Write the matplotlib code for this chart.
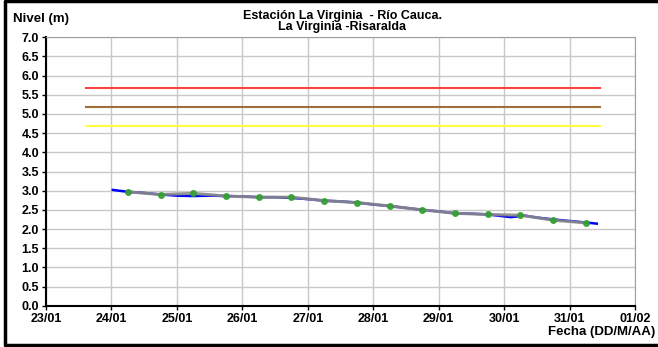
import matplotlib
matplotlib.use('Agg')
import matplotlib.pyplot as plt
import matplotlib.dates as mdates
from matplotlib.lines import Line2D
from datetime import datetime, timedelta

plt.rcParams['font.family'] = ['Liberation Sans', 'DejaVu Sans']
plt.rcParams['font.weight'] = 'bold'

t0 = datetime(2012, 1, 24)
# lecturas (cada 12 h) - horas desde 24/01 00:00
horas_lect = [6, 18, 30, 42, 54, 66, 78, 90, 102, 114, 126, 138, 150, 162, 174]
nivel_lect = [2.97, 2.90, 2.93, 2.86, 2.83, 2.83, 2.74, 2.69, 2.60, 2.50, 2.41, 2.38, 2.36, 2.23, 2.16]

# sensor (linea azul)
horas_sensor = [0.5, 6, 12, 18, 24, 30, 36, 42, 48, 54, 60, 66, 72, 78, 84, 90, 96, 102, 108, 114,
                120, 126, 132, 138, 144, 146.5, 149, 150.5, 156, 162, 168, 174, 178]
nivel_sensor = [3.02, 2.97, 2.94, 2.90, 2.87, 2.86, 2.87, 2.86, 2.85, 2.83, 2.83, 2.81, 2.78, 2.74,
                2.72, 2.69, 2.64, 2.60, 2.55, 2.50, 2.46, 2.41, 2.40, 2.38, 2.33, 2.31, 2.33, 2.36,
                2.30, 2.25, 2.21, 2.17, 2.14]

# niveles de alerta
alertas = [5.67, 5.18, 4.68]
col_alertas = ['#ff4040', '#a0703a', '#ffff40']
ini_alerta, fin_alerta = -9.4, 179.3

fig = plt.figure(figsize=(6.58, 3.47), dpi=100)
ax = fig.add_axes([0.0699, 0.119, 0.8951, 0.7735])

for v, c in zip(alertas, col_alertas):
    ax.plot([t0 + timedelta(hours=ini_alerta), t0 + timedelta(hours=fin_alerta)], [v, v], color=c, lw=1.5)

ax.plot([t0 + timedelta(hours=h) for h in horas_sensor], nivel_sensor, color='#0000ff', lw=1.8, zorder=3)
ax.plot([t0 + timedelta(hours=h) for h in horas_lect], nivel_lect, color='#8a8a8a', lw=2.2, alpha=0.9,
        marker='o', markersize=4, markerfacecolor='#33a033', markeredgecolor='#33a033', zorder=4)

ax.set_xlim(datetime(2012, 1, 23), datetime(2012, 2, 1))
ax.set_ylim(0, 7)
ax.set_yticks([i * 0.5 for i in range(15)])
ax.yaxis.set_major_formatter(plt.FormatStrFormatter('%.1f'))
ax.xaxis.set_major_locator(mdates.DayLocator())
ax.xaxis.set_major_formatter(mdates.DateFormatter('%d/%m'))
ax.grid(True, color='#c8c8c8', lw=1)
ax.set_axisbelow(True)
ax.tick_params(labelsize=9, length=3, width=1, pad=2)
for lab in ax.get_xticklabels() + ax.get_yticklabels():
    lab.set_fontweight('bold')
ax.spines['left'].set_linewidth(1.5)
ax.spines['bottom'].set_linewidth(1.5)
ax.spines['top'].set_color('#a0a0a0')
ax.spines['right'].set_color('#a0a0a0')

fig.text(0.52, 0.972, 'Estación La Virginia  - Río Cauca.\nLa Virginia -Risaralda', ha='center', va='top',
         fontsize=9, fontweight='bold', linespacing=0.9)
fig.text(0.02, 0.945, 'Nivel (m)', ha='left', va='center', fontsize=9.5, fontweight='bold')
fig.text(0.996, 0.043, 'Fecha (DD/M/AA)', ha='right', va='center', fontsize=9.5, fontweight='bold')

# marco (arriba, izquierda, abajo)
fig.lines.append(Line2D([1.0, 0.007, 0.007, 1.0], [0.996, 0.996, 0.007, 0.007], transform=fig.transFigure,
                        color='black', lw=2.5))

fig.savefig('out.png', dpi=100)
